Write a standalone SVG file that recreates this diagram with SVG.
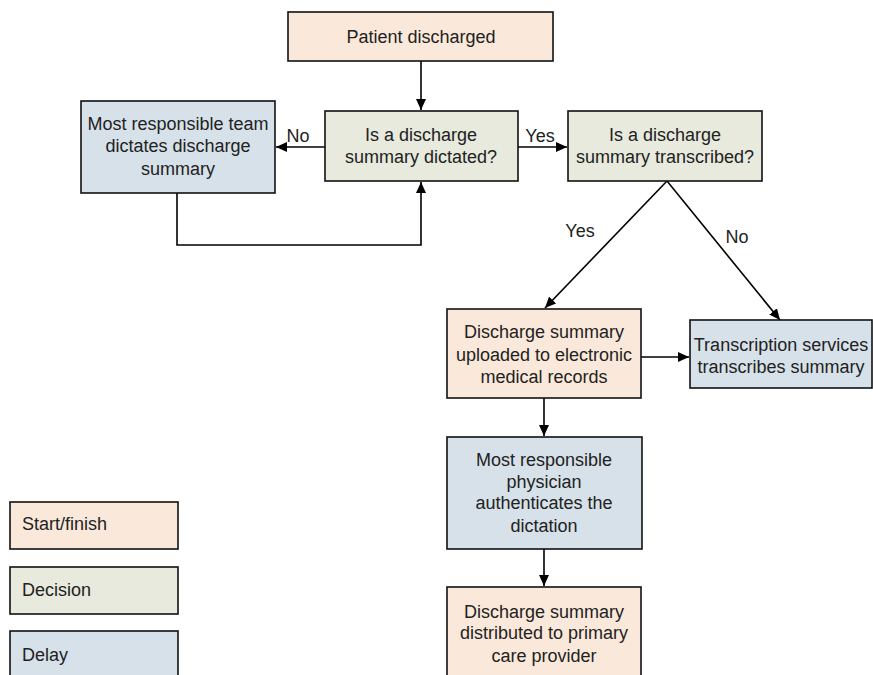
<svg xmlns="http://www.w3.org/2000/svg" width="873" height="675" viewBox="0 0 873 675">
<defs>
<marker id="ah" markerUnits="userSpaceOnUse" markerWidth="12" markerHeight="10" refX="11" refY="5" orient="auto">
<path d="M0,0 L11,5 L0,10 Z" fill="#000"/>
</marker>
<style>
.box{stroke:#111;stroke-width:1.6}
.sf{fill:#FAE9DA}
.dc{fill:#E7EADD}
.dl{fill:#D6E1E9}
text{font-family:"Liberation Sans",Arial,sans-serif;font-size:18px;fill:#222}
.c{text-anchor:middle}
.cn{fill:none;stroke:#000;stroke-width:1.6}
</style>
</defs>
<rect width="873" height="675" fill="#fff"/>
<g id="connectors">
<path class="cn" d="M421,61 V110" marker-end="url(#ah)"/>
<path class="cn" d="M325,147 H276" marker-end="url(#ah)"/>
<path class="cn" d="M518,147 H567" marker-end="url(#ah)"/>
<path class="cn" d="M177,193 V245 H421 V182" marker-end="url(#ah)"/>
<path class="cn" d="M667,181 L545,308" marker-end="url(#ah)"/>
<path class="cn" d="M667,181 L780,320" marker-end="url(#ah)"/>
<path class="cn" d="M544,398 V436" marker-end="url(#ah)"/>
<path class="cn" d="M641,357 H689" marker-end="url(#ah)"/>
<path class="cn" d="M544,549 V586" marker-end="url(#ah)"/>
<text x="298" y="142" class="c">No</text>
<text x="540" y="142" class="c">Yes</text>
<text x="580" y="237" class="c">Yes</text>
<text x="737" y="243" class="c">No</text>
</g>
<g id="start">
<rect class="box sf" x="288" y="12" width="265" height="49"/>
<text x="421" y="43" class="c">Patient discharged</text>
</g>
<g id="dictated">
<rect class="box dc" x="325" y="111" width="193" height="70"/>
<text x="421" y="141" class="c">Is a discharge</text>
<text x="421" y="163" class="c">summary dictated?</text>
</g>
<g id="team">
<rect class="box dl" x="81" y="101" width="194" height="92"/>
<text x="178" y="130" class="c">Most responsible team</text>
<text x="178" y="152" class="c">dictates discharge</text>
<text x="178" y="175" class="c">summary</text>
</g>
<g id="transcribed">
<rect class="box dc" x="568" y="111" width="194" height="70"/>
<text x="665" y="141" class="c">Is a discharge</text>
<text x="665" y="163" class="c">summary transcribed?</text>
</g>
<g id="uploaded">
<rect class="box sf" x="447" y="309" width="194" height="89"/>
<text x="544" y="338" class="c">Discharge summary</text>
<text x="544" y="361" class="c">uploaded to electronic</text>
<text x="544" y="383" class="c">medical records</text>
</g>
<g id="transcription">
<rect class="box dl" x="690" y="320" width="182" height="68"/>
<text x="781" y="351" class="c">Transcription services</text>
<text x="781" y="373" class="c">transcribes summary</text>
</g>
<g id="authenticate">
<rect class="box dl" x="447" y="437" width="195" height="112"/>
<text x="544" y="466" class="c">Most responsible</text>
<text x="544" y="488" class="c">physician</text>
<text x="544" y="509" class="c">authenticates the</text>
<text x="544" y="532" class="c">dictation</text>
</g>
<g id="distributed">
<rect class="box sf" x="447" y="587" width="194" height="100"/>
<text x="544" y="618" class="c">Discharge summary</text>
<text x="544" y="639" class="c">distributed to primary</text>
<text x="544" y="662" class="c">care provider</text>
</g>
<g id="legend-start">
<rect class="box sf" x="10" y="502" width="168" height="47"/>
<text x="22" y="530">Start/finish</text>
</g>
<g id="legend-decision">
<rect class="box dc" x="10" y="567" width="168" height="47"/>
<text x="22" y="596">Decision</text>
</g>
<g id="legend-delay">
<rect class="box dl" x="10" y="631" width="168" height="60"/>
<text x="22" y="661">Delay</text>
</g>
</svg>
